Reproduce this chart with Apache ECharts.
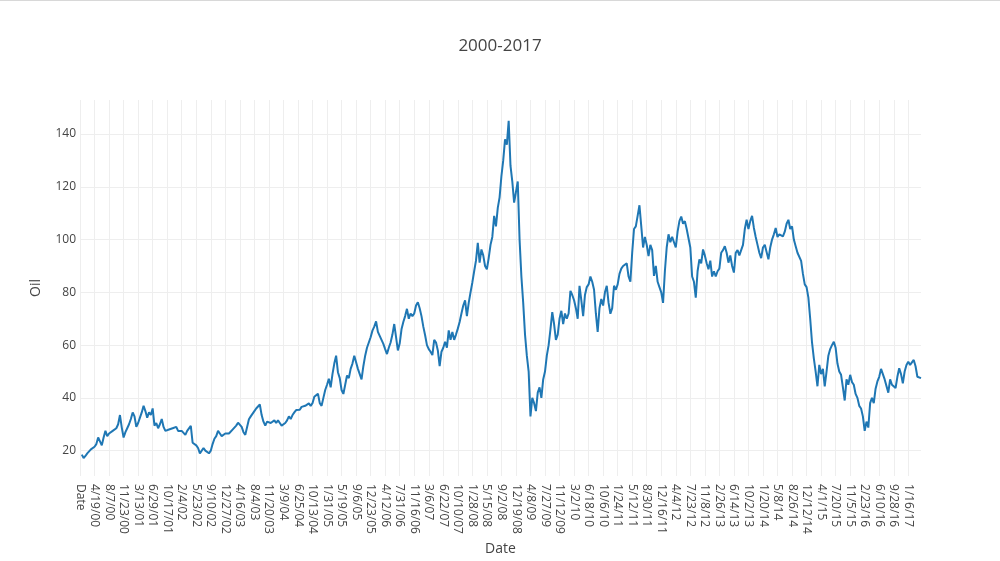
<!DOCTYPE html>
<html>
<head>
<meta charset="utf-8">
<script src="https://cdn.jsdelivr.net/npm/echarts@6/dist/echarts.min.js"></script>
<style>
  html, body { margin: 0; padding: 0; background: #fff; }
  #chart { width: 1000px; height: 561px; }
</style>
</head>
<body>
<div id="chart"></div>
<script>
// tick labels on the date axis (the first one is the csv header)
var tickLabels = [
  "Date", "4/19/00", "8/7/00", "11/23/00", "3/13/01", "6/29/01", "10/17/01", "2/4/02",
  "5/23/02", "9/10/02", "12/27/02", "4/16/03", "8/4/03", "11/20/03", "3/9/04", "6/25/04",
  "10/13/04", "1/31/05", "5/19/05", "9/6/05", "12/23/05", "4/12/06", "7/31/06", "11/16/06",
  "3/6/07", "6/22/07", "10/10/07", "1/28/08", "5/15/08", "9/2/08", "12/19/08", "4/8/09",
  "7/27/09", "11/12/09", "3/2/10", "6/18/10", "10/6/10", "1/24/11", "5/12/11", "8/30/11",
  "12/16/11", "4/4/12", "7/23/12", "11/8/12", "2/26/13", "6/14/13", "10/2/13", "1/20/14",
  "5/8/14", "8/26/14", "12/12/14", "4/1/15", "7/20/15", "11/5/15", "2/23/16", "6/10/16",
  "9/28/16", "1/16/17"
];
var stepsPerTick = 8;

// oil price, 8 samples per tick interval
var oil = [
  null, 18.5, 17.2, 18, 19, 19.5, 20.5, 21, 21.5, 22.5, 25, 23.5, 22, 25, 27.5, 25.5,
  26.5, 26, 27.5, 27, 28.5, 30, 33.5, 28.75, 25, 27, 28.5, 30, 32, 34.5, 33, 29,
  30.5, 32.5, 34.5, 37, 35, 32.5, 34.5, 33.5, 36, 29.5, 30.5, 28.5, 30, 32, 29, 27.5,
  27.5, 28, 28.5, 28.5, 28.75, 29, 27.5, 27.5, 27.5, 27, 26, 27.5, 28, 29.4, 23, 22.5,
  22, 21, 19, 18.75, 21, 20, 19.5, 19, 20, 22.5, 24.5, 25.5, 27.5, 26.5, 25.5, 26,
  26.5, 26.5, 26.5, 27, 28, 28.5, 29.5, 30.6, 30, 29, 27, 26, 29, 31.9, 33, 33.5,
  35, 36, 36.5, 37.5, 33.5, 31, 29.5, 31, 31.5, 30.5, 31, 31.5, 30.5, 31.5, 30.5, 29.5,
  29, 30.5, 31.5, 33, 32, 33.5, 34.5, 35.4, 35, 35.5, 36.6, 36.5, 37, 37.5, 37.9, 37,
  38, 40.4, 41, 41.6, 38, 37, 40, 43, 45, 47.25, 44, 49, 53, 56, 49.75, 47.5,
  43, 41.5, 45, 48.5, 47.5, 51, 53, 56, 53.5, 51, 49, 47, 52, 56, 59, 61,
  63, 65.5, 67, 69, 65, 63.5, 62, 60.5, 58.5, 56.6, 59, 61, 64, 68, 63, 58,
  60.6, 66, 68.75, 71, 73.75, 70, 72, 71, 72, 75, 76.25, 74, 71, 67, 63.75, 60,
  58.5, 57.5, 56.25, 62, 61, 58, 52, 57.5, 59, 61.25, 59, 65.6, 62, 65, 62, 64,
  66.25, 68.75, 72, 75, 77, 71, 76, 80, 83.75, 88, 92, 98.75, 91.25, 96.25, 94, 90,
  88.75, 93, 98, 101, 109, 105, 112, 116, 124, 130, 138, 136, 145, 128, 122, 114,
  118, 122, 100, 86, 76, 64, 56, 50, 33, 40, 38, 35, 42, 44, 40, 47,
  50, 56, 60, 66, 72.5, 68, 62, 64, 70, 73, 68, 72, 70, 72, 80.6, 79,
  77, 74, 70, 82.5, 77, 71, 79, 82, 83, 86, 84, 81, 72, 65, 74, 77.5,
  75, 80, 82.5, 76, 71.9, 74, 82.5, 81, 83, 87, 89, 90, 90.6, 91, 86, 84,
  95, 104, 105, 109, 113, 105, 97, 101, 98, 93.75, 98, 96, 86.25, 90, 84, 82,
  80, 76, 88, 97, 102, 99, 101, 99, 97, 103, 107, 108.75, 106, 107, 104, 104,
  97, 86, 84, 78, 88, 92.5, 91, 96.25, 94, 91, 88.75, 92, 86, 88, 86, 88,
  89, 95, 96, 97.5, 95, 91.25, 94, 90, 87.5, 95, 96, 94, 96, 98, 104, 107.5,
  104, 107, 109, 104.4, 101, 98, 95, 93, 97, 98, 98, 92.5, 97, 100, 102, 104.4,
  101, 102, 101.5, 101.25, 103, 106, 107.5, 104, 105, 100, 97.5, 95, 95, 91.9, 87, 83,
  82, 78, 70, 61, 55, 50, 44.4, 52.5, 49, 51, 44.4, 50, 56, 58.5, 60, 61.25,
  59, 53, 50, 48.75, 44, 39, 47, 45, 48.75, 46, 45, 41.5, 40, 37, 36, 33,
  27.5, 31, 28.75, 38, 40, 38, 43.5, 46.25, 48, 51, 49, 47, 46.25, 42, 47, 45,
  45, 43.75, 48, 51.25, 49, 45.5, 50, 52.5, 53.75, 52.5, 53, 54.4, 52, 48, 47.5, 47.5
];

var yTicks = [20, 40, 60, 80, 100, 120, 140];

// one category per sample; only every 8th one carries a tick label
var categories = [];
tickLabels.forEach(function (lab) {
  categories.push(lab);
  for (var j = 1; j < stepsPerTick; j++) categories.push("");
});

var chart = echarts.init(document.getElementById("chart"), null, { renderer: "canvas" });

var textColor = "#444";
var gridColor = "#eee";
var font = "Open Sans";

var option = {
  backgroundColor: "#fff",
  animation: false,
  title: {
    text: "2000-2017",
    left: "center",
    top: 33,
    textStyle: { fontFamily: font, fontSize: 17, fontWeight: "normal", color: textColor }
  },
  grid: { left: 80, right: 79, top: 100, bottom: 81 },
  xAxis: {
    type: "category",
    data: categories,
    boundaryGap: false,
    name: "Date",
    nameLocation: "middle",
    nameGap: 66,
    nameTextStyle: { fontFamily: font, fontSize: 14, color: textColor },
    axisLine: { show: false },
    axisTick: { show: false },
    axisLabel: {
      interval: stepsPerTick - 1,
      rotate: -90,
      margin: 8,
      fontFamily: font,
      fontSize: 12,
      color: textColor
    },
    splitLine: {
      show: true,
      interval: stepsPerTick - 1,
      lineStyle: { color: gridColor, width: 1 }
    }
  },
  yAxis: {
    type: "value",
    min: 10.4,
    max: 152.9,
    name: "Oil",
    nameLocation: "middle",
    nameGap: 37,
    nameTextStyle: { fontFamily: font, fontSize: 14, color: textColor },
    axisLine: { show: false },
    axisTick: { show: false, customValues: yTicks },
    axisLabel: {
      customValues: yTicks,
      margin: 4,
      fontFamily: font,
      fontSize: 12,
      color: textColor
    },
    splitLine: { show: true, lineStyle: { color: gridColor, width: 1 } }
  },
  series: [{
    name: "Oil",
    type: "line",
    data: oil,
    showSymbol: false,
    lineStyle: { color: "#1f77b4", width: 2 },
    itemStyle: { color: "#1f77b4" }
  }],
  graphic: [{
    type: "line",
    shape: { x1: 0, y1: 0.5, x2: 1000, y2: 0.5 },
    style: { stroke: "#d8d8d8", lineWidth: 1 }
  }]
};

chart.setOption(option);
</script>
</body>
</html>
